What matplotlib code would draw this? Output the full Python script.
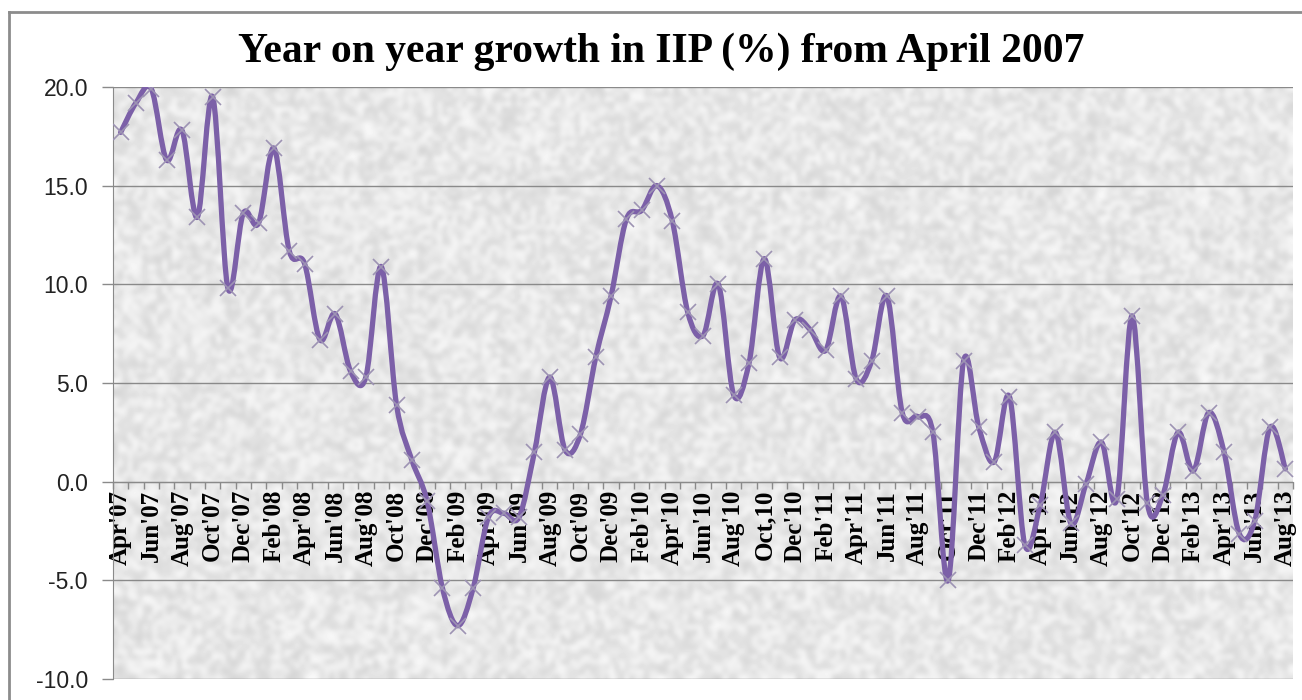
import numpy as np
import matplotlib
matplotlib.use("Agg")
import matplotlib.pyplot as plt
from matplotlib.lines import Line2D
from matplotlib.path import Path
from matplotlib.patches import PathPatch

# year on year growth in IIP (%), Apr'07 .. Aug'13
iip_2007 = [17.7, 19.2, 19.9, 16.3, 17.8, 13.4, 19.5, 9.8, 13.6]
iip_2008 = [13.1, 16.9, 11.7, 11.05, 7.2, 8.5, 5.6, 5.3, 10.9, 3.9, 1.1, -1.0]
iip_2009 = [-5.4, -7.3, -5.4, -1.8, -1.6, -1.8, 1.5, 5.3, 1.6, 2.4, 6.3, 9.4]
iip_2010 = [13.3, 13.75, 15.0, 13.2, 8.6, 7.4, 10.0, 4.4, 6.0, 11.3, 6.3, 8.2]
iip_2011 = [7.7, 6.65, 9.4, 5.2, 6.1, 9.4, 3.5, 3.3, 2.5, -5.0, 6.1, 2.75]
iip_2012 = [1.0, 4.3, -3.2, -1.2, 2.5, -2.1, -0.1, 2.0, -0.9, 8.4, -1.1, -0.7]
iip_2013 = [2.5, 0.55, 3.5, 1.5, -2.65, -2.0, 2.75, 0.65]

# every second month is labelled on the category axis
month_labels = [
    "Apr'07", "Jun'07", "Aug'07", "Oct'07", "Dec'07",
    "Feb'08", "Apr'08", "Jun'08", "Aug'08", "Oct'08", "Dec'08",
    "Feb'09", "Apr'09", "Jun'09", "Aug'09", "Oct'09", "Dec'09",
    "Feb'10", "Apr'10", "Jun'10", "Aug'10", "Oct,10", "Dec'10",
    "Feb'11", "Apr'11", "Jun'11", "Aug'11", "Oct'11", "Dec'11",
    "Feb'12", "Apr'12", "Jun'12", "Aug'12", "Oct'12", "Dec'12",
    "Feb'13", "Apr'13", "Jun'13", "Aug'13",
]
y_ticks = [-10, -5, 0, 5, 10, 15, 20]
y_tick_labels = ["-10.0", "-5.0", "0.0", "5.0", "10.0", "15.0", "20.0"]

title_str = "Year on year growth in IIP (%) from April 2007"

LINE_COLOR = "#7c60a8"
MARKER_COLOR = "#9d93b3"
GRID_COLOR = "#8a8a8a"


def smooth_path(x, y):
    """Excel style smoothed line as cubic bezier segments"""
    pts = np.column_stack([x, y])
    n = len(pts)
    verts = [pts[0]]
    codes = [Path.MOVETO]
    for i in range(n - 1):
        p0 = pts[max(i - 1, 0)]
        p1 = pts[i]
        p2 = pts[i + 1]
        p3 = pts[min(i + 2, n - 1)]
        c1 = p1 + (p2 - p0) / 6.0
        c2 = p2 - (p3 - p1) / 6.0
        verts += [c1, c2, p2]
        codes += [Path.CURVE4] * 3
    return Path(verts, codes)


values = np.array(iip_2007 + iip_2008 + iip_2009 + iip_2010
                  + iip_2011 + iip_2012 + iip_2013)
xs = np.arange(len(values))

fig = plt.figure(figsize=(13.02, 7.0), dpi=100)
fig.patch.set_facecolor("white")

# outer chart frame (only top and left edges are inside the crop)
fig.add_artist(Line2D([9 / 1302, 1.0], [1 - 12 / 700, 1 - 12 / 700],
                      transform=fig.transFigure, color="#8c8c8c", lw=2))
fig.add_artist(Line2D([9 / 1302, 9 / 1302], [0.0, 1 - 12 / 700],
                      transform=fig.transFigure, color="#8c8c8c", lw=2))

ax = fig.add_axes([113 / 1302, 1 - 679 / 700, 1180 / 1302, 592 / 700])
ax.set_xlim(-0.5, len(values) - 0.5)
ax.set_ylim(-10, 20)
ax.set_axisbelow(True)

# light newsprint-like texture behind the plot (decoration only)
rng = np.random.default_rng(7)
tex = 0.83 + 0.15 * rng.random((120, 240))
ax.imshow(tex, cmap="gray", vmin=0, vmax=1, interpolation="bicubic",
          extent=(0, 1, 0, 1), transform=ax.transAxes, aspect="auto",
          zorder=0)

ax.yaxis.grid(True, color=GRID_COLOR, lw=1)
ax.set_yticks(y_ticks)
ax.set_yticklabels(y_tick_labels, family="Liberation Sans", fontsize=16.5,
                   color="#222222")
ax.tick_params(axis="y", length=8, width=1, color=GRID_COLOR, pad=10)

ax.spines["bottom"].set_position(("data", 0))
for side in ["top", "right"]:
    ax.spines[side].set_visible(False)
ax.spines["left"].set_color(GRID_COLOR)
ax.spines["bottom"].set_color(GRID_COLOR)

ax.set_xticks(xs[::2])
ax.set_xticklabels(month_labels, rotation=90, family="Liberation Serif",
                   fontweight="bold", fontsize=18)
ax.set_xticks(np.arange(-0.5, len(values), 1.0), minor=True)
ax.tick_params(axis="x", which="major", length=0, pad=6)
ax.tick_params(axis="x", which="minor", length=5, width=1, color=GRID_COLOR)

ax.add_patch(PathPatch(smooth_path(xs, values), fill=False,
                       edgecolor=LINE_COLOR, lw=3.8, capstyle="round",
                       joinstyle="round", zorder=3))
ax.plot(xs, values, linestyle="none", marker="x", markersize=12,
        markeredgewidth=1.2, color=MARKER_COLOR, zorder=4)

fig.text(661 / 1302, 1 - 52 / 700, title_str, ha="center", va="center",
         family="Liberation Serif", fontweight="bold", fontsize=30)

fig.savefig("out.png", dpi=100)
